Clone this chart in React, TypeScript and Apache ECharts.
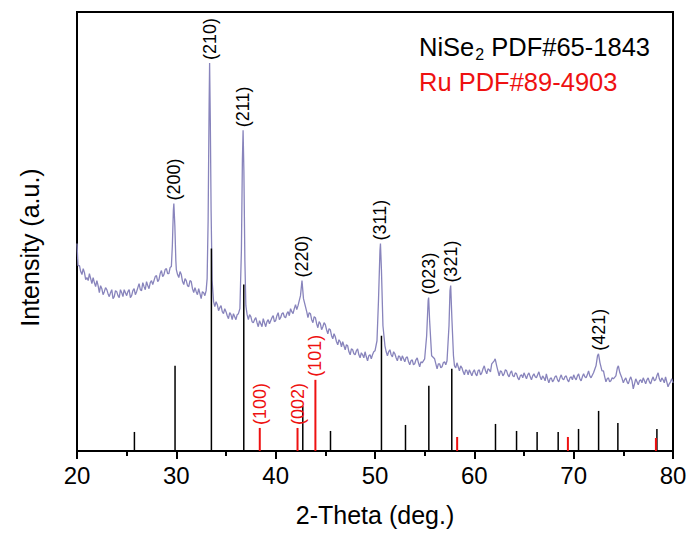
import React, { useEffect, useRef } from "react";
import * as echarts from "echarts";

// XRD pattern of the sample: [2-theta (deg), intensity (a.u.)]
const pattern: [number, number][] = [
  [20.0, 207], [20.1, 185], [20.25, 185], [20.375, 179], [20.5, 176], [20.625, 182], [20.75, 178], [20.875, 171],
  [21.0, 173], [21.125, 170], [21.25, 177], [21.375, 172], [21.5, 167], [21.625, 173], [21.75, 168], [21.875, 164],
  [22.0, 170], [22.125, 165], [22.25, 158], [22.375, 165], [22.5, 162], [22.625, 156], [22.75, 159], [22.875, 163],
  [23.0, 161], [23.125, 157], [23.25, 154], [23.375, 158], [23.5, 161], [23.625, 152], [23.75, 154], [23.875, 160],
  [24.0, 159], [24.125, 155], [24.25, 153], [24.375, 161], [24.5, 158], [24.625, 154], [24.75, 161], [24.875, 158],
  [25.0, 155], [25.125, 159], [25.25, 161], [25.375, 153], [25.5, 155], [25.625, 160], [25.75, 162], [25.875, 156],
  [26.0, 159], [26.125, 163], [26.25, 167], [26.375, 161], [26.5, 160], [26.625, 168], [26.75, 164], [26.875, 161],
  [27.0, 169], [27.125, 165], [27.25, 162], [27.375, 168], [27.5, 170], [27.625, 166], [27.75, 170], [27.875, 174],
  [28.0, 175], [28.125, 169], [28.25, 171], [28.375, 177], [28.5, 180], [28.625, 174], [28.75, 176], [28.875, 181],
  [29.0, 182], [29.125, 177], [29.25, 177], [29.375, 183], [29.5, 184], [29.6, 205], [29.7, 240], [29.75, 247],
  [29.85, 225], [29.95, 190], [30.0, 181], [30.125, 176], [30.25, 173], [30.375, 179], [30.5, 176], [30.625, 169],
  [30.75, 166], [30.875, 172], [31.0, 170], [31.125, 165], [31.25, 164], [31.375, 170], [31.5, 169], [31.625, 162],
  [31.75, 158], [31.875, 163], [32.0, 159], [32.125, 156], [32.25, 162], [32.375, 157], [32.5, 152], [32.625, 159],
  [32.75, 158], [32.875, 155], [33.0, 160], [33.1, 172], [33.2, 230], [33.3, 345], [33.35, 387], [33.42, 330],
  [33.5, 240], [33.6, 170], [33.75, 149], [33.875, 144], [34.0, 149], [34.125, 146], [34.25, 140], [34.375, 143],
  [34.5, 145], [34.625, 139], [34.75, 137], [34.875, 142], [35.0, 139], [35.125, 135], [35.25, 132], [35.375, 138],
  [35.5, 136], [35.625, 131], [35.75, 137], [35.875, 134], [36.0, 131], [36.125, 136], [36.25, 137], [36.4, 142],
  [36.55, 200], [36.65, 290], [36.72, 320], [36.8, 280], [36.9, 190], [37.0, 145], [37.125, 136], [37.25, 131],
  [37.375, 136], [37.5, 134], [37.625, 129], [37.75, 128], [37.875, 131], [38.0, 133], [38.125, 128], [38.25, 124],
  [38.375, 130], [38.5, 127], [38.625, 124], [38.75, 132], [38.875, 128], [39.0, 124], [39.125, 129], [39.25, 131],
  [39.375, 127], [39.5, 130], [39.625, 133], [39.75, 135], [39.875, 129], [40.0, 130], [40.125, 135], [40.25, 138],
  [40.375, 131], [40.5, 133], [40.625, 137], [40.75, 138], [40.875, 134], [41.0, 133], [41.125, 137], [41.25, 139],
  [41.375, 135], [41.5, 142], [41.625, 139], [41.75, 137], [41.875, 142], [42.0, 146], [42.125, 141], [42.25, 145],
  [42.5, 155], [42.65, 170], [42.8, 152], [43.0, 144], [43.125, 139], [43.25, 133], [43.375, 138], [43.5, 137],
  [43.625, 131], [43.75, 128], [43.875, 134], [44.0, 133], [44.125, 127], [44.25, 123], [44.375, 129], [44.5, 127],
  [44.625, 121], [44.75, 124], [44.875, 128], [45.0, 126], [45.125, 121], [45.25, 117], [45.375, 122], [45.5, 121],
  [45.625, 115], [45.75, 112], [45.875, 117], [46.0, 114], [46.125, 109], [46.25, 106], [46.375, 111], [46.5, 109],
  [46.625, 104], [46.75, 109], [46.875, 105], [47.0, 101], [47.125, 106], [47.25, 105], [47.375, 99], [47.5, 96],
  [47.625, 102], [47.75, 101], [47.875, 97], [48.0, 96], [48.125, 100], [48.25, 102], [48.375, 96], [48.5, 93],
  [48.625, 98], [48.75, 96], [48.875, 93], [49.0, 99], [49.125, 94], [49.25, 90], [49.375, 95], [49.5, 96],
  [49.625, 92], [49.75, 96], [49.875, 99], [50.0, 100], [50.2, 110], [50.35, 150], [50.5, 200], [50.55, 207],
  [50.65, 180], [50.8, 125], [51.0, 105], [51.125, 99], [51.25, 95], [51.375, 99], [51.5, 101], [51.625, 96],
  [51.75, 94], [51.875, 99], [52.0, 97], [52.125, 93], [52.25, 90], [52.375, 95], [52.5, 94], [52.625, 90],
  [52.75, 95], [52.875, 92], [53.0, 89], [53.125, 93], [53.25, 94], [53.375, 89], [53.5, 86], [53.625, 90],
  [53.75, 91], [53.875, 86], [54.0, 87], [54.125, 91], [54.25, 93], [54.375, 88], [54.5, 84], [54.625, 89],
  [54.75, 88], [55.0, 92], [55.2, 115], [55.35, 150], [55.4, 153], [55.5, 130], [55.7, 95], [56.0, 92],
  [56.125, 87], [56.25, 82], [56.375, 87], [56.5, 87], [56.625, 83], [56.75, 84], [56.875, 88], [57.0, 89],
  [57.125, 86], [57.25, 90], [57.45, 125], [57.55, 160], [57.62, 165], [57.75, 130], [57.9, 95], [58.0, 85],
  [58.125, 83], [58.25, 88], [58.375, 84], [58.5, 80], [58.625, 85], [58.75, 83], [58.875, 79], [59.0, 76],
  [59.125, 81], [59.25, 80], [59.375, 76], [59.5, 81], [59.625, 78], [59.75, 75], [59.875, 79], [60.0, 81],
  [60.125, 77], [60.25, 75], [60.375, 80], [60.5, 81], [60.625, 76], [60.75, 78], [60.875, 82], [61.0, 85],
  [61.125, 80], [61.25, 77], [61.375, 82], [61.5, 81], [61.625, 79], [61.75, 87], [62.0, 90], [62.1, 92],
  [62.25, 85], [62.5, 75], [62.625, 80], [62.75, 79], [62.875, 75], [63.0, 77], [63.125, 81], [63.25, 80],
  [63.375, 76], [63.5, 74], [63.625, 78], [63.75, 80], [63.875, 75], [64.0, 74], [64.125, 78], [64.25, 77],
  [64.375, 73], [64.5, 71], [64.625, 75], [64.75, 76], [64.875, 73], [65.0, 78], [65.125, 75], [65.25, 72],
  [65.375, 76], [65.5, 78], [65.625, 74], [65.75, 71], [65.875, 75], [66.0, 77], [66.125, 74], [66.25, 73],
  [66.375, 76], [66.5, 79], [66.625, 74], [66.75, 71], [66.875, 75], [67.0, 73], [67.125, 70], [67.25, 77],
  [67.375, 72], [67.5, 68], [67.625, 72], [67.75, 73], [67.875, 69], [68.0, 71], [68.125, 74], [68.25, 75],
  [68.375, 71], [68.5, 69], [68.625, 73], [68.75, 76], [68.875, 72], [69.0, 71], [69.125, 74], [69.25, 75],
  [69.375, 71], [69.5, 69], [69.625, 73], [69.75, 74], [69.875, 71], [70.0, 76], [70.125, 73], [70.25, 71],
  [70.375, 75], [70.5, 77], [70.625, 72], [70.75, 70], [70.875, 74], [71.0, 77], [71.125, 74], [71.25, 73],
  [71.375, 76], [71.5, 80], [71.625, 75], [71.75, 73], [72.0, 78], [72.25, 85], [72.4, 95], [72.5, 97],
  [72.65, 88], [72.85, 80], [73.0, 80], [73.125, 74], [73.25, 69], [73.375, 72], [73.5, 73], [73.625, 69],
  [73.75, 70], [73.875, 73], [74.0, 72], [74.25, 75], [74.4, 83], [74.5, 85], [74.65, 78], [74.85, 73],
  [75.0, 68], [75.125, 71], [75.25, 73], [75.375, 69], [75.5, 67], [75.625, 71], [75.75, 74], [75.875, 70],
  [76.0, 62], [76.125, 67], [76.25, 72], [76.375, 69], [76.5, 66], [76.625, 70], [76.75, 71], [76.875, 68],
  [77.0, 73], [77.125, 70], [77.25, 67], [77.375, 71], [77.5, 73], [77.625, 69], [77.75, 67], [77.875, 71],
  [78.0, 74], [78.125, 70], [78.25, 71], [78.375, 75], [78.5, 78], [78.625, 72], [78.75, 69], [78.875, 73],
  [79.0, 71], [79.125, 68], [79.25, 74], [79.375, 69], [79.5, 64], [79.625, 67], [79.75, 69], [79.875, 72],
  [80.0, 68],
];

// NiSe2 PDF#65-1843 reference lines: [2-theta, relative height]
const niSe2Lines: [number, number][] = [
  [25.78, 19], [29.87, 85], [33.53, 202], [36.79, 166], [42.73, 45], [45.52, 20], [50.65, 115], [53.07, 26],
  [55.42, 65], [57.73, 82], [62.13, 27], [64.25, 20], [66.32, 19], [68.44, 19], [70.49, 22], [72.51, 40],
  [74.45, 28], [78.38, 22],
];

// Ru PDF#89-4903 reference lines
const ruLines: [number, number][] = [
  [38.4, 23], [42.2, 23], [44.0, 71], [58.27, 14], [69.42, 14], [78.28, 13],
];

// Peak indexing labels
const niSe2Hkl = ["(200)", "(210)", "(211)", "(220)", "(311)", "(023)", "(321)", "(421)"];
const niSe2HklTheta = [29.75, 33.35, 36.72, 42.65, 50.55, 55.4, 57.62, 72.5];
const ruHkl = ["(100)", "(002)", "(101)"];
const ruHklTheta = [38.4, 42.2, 44.0];

const xTicks = { min: 20, max: 80, interval: 10 };

const FONT = '"Liberation Sans", Arial, Helvetica, sans-serif';

export default function App() {
  const ref = useRef<HTMLDivElement>(null);

  useEffect(() => {
    if (!ref.current) return;
    const chart = echarts.init(ref.current, undefined, { renderer: "svg" });

    const peakHeight = (t: number) => {
      let m = 0;
      for (const [x, y] of pattern) if (Math.abs(x - t) <= 0.15 && y > m) m = y;
      return m;
    };
    const niLabelData = niSe2HklTheta.map((t) => [t, peakHeight(t)]);
    const ruLabelData = ruHklTheta.map((t) => {
      const l = ruLines.find((r) => Math.abs(r[0] - t) < 0.05);
      return [t, l ? l[1] : 0];
    });

    const stickSeries = (name: string, data: [number, number][], color: string, width: number, z: number) => ({
      name,
      type: "custom",
      z,
      data,
      encode: { x: 0, y: 1 },
      renderItem: (params: any, api: any) => {
        const p0 = api.coord([api.value(0), 0]);
        const p1 = api.coord([api.value(0), api.value(1)]);
        return {
          type: "line",
          shape: { x1: p0[0], y1: p0[1], x2: p1[0], y2: p1[1] },
          style: { stroke: color, lineWidth: width },
        };
      },
    });

    const labelSeries = (texts: string[], data: number[][], color: string, gap: number) => ({
      type: "custom",
      z: 10,
      data,
      encode: { x: 0, y: 1 },
      renderItem: (params: any, api: any) => {
        const p = api.coord([api.value(0), api.value(1)]);
        return {
          type: "text",
          x: p[0],
          y: p[1] - gap,
          rotation: Math.PI / 2,
          style: {
            text: texts[params.dataIndex],
            fill: color,
            font: `18px ${FONT}`,
            align: "left",
            verticalAlign: "middle",
            textAlign: "left",
            textVerticalAlign: "middle",
          },
        };
      },
    });

    chart.setOption({
      animation: false,
      backgroundColor: "#ffffff",
      grid: {
        left: 77,
        right: 18,
        top: 12,
        bottom: 85,
        show: true,
        borderColor: "#000",
        borderWidth: 2,
        backgroundColor: "transparent",
      },
      xAxis: {
        type: "value",
        min: xTicks.min,
        max: xTicks.max,
        interval: xTicks.interval,
        name: "2-Theta (deg.)",
        nameLocation: "middle",
        nameGap: 51,
        nameTextStyle: { fontSize: 25, color: "#000", fontFamily: FONT },
        axisLine: { show: true, lineStyle: { color: "#000", width: 2 } },
        axisTick: { show: true, inside: false, length: 8, lineStyle: { color: "#000", width: 2 } },
        minorTick: { show: true, splitNumber: 2, length: 5, lineStyle: { color: "#000", width: 2 } },
        splitLine: { show: false },
        axisLabel: { fontSize: 24, color: "#000", fontFamily: FONT, margin: 12 },
      },
      yAxis: {
        type: "value",
        min: 0,
        max: 438,
        name: "Intensity (a.u.)",
        nameLocation: "middle",
        nameGap: 35,
        nameTextStyle: { fontSize: 25, color: "#000", fontFamily: FONT, padding: [0, 32, 0, 0] },
        axisLine: { show: true, lineStyle: { color: "#000", width: 2 } },
        axisTick: { show: false },
        axisLabel: { show: false },
        splitLine: { show: false },
      },
      graphic: [
        {
          type: "text",
          x: 419,
          y: 47,
          style: {
            rich: {
              a: { fontSize: 25.5, fontFamily: FONT, fill: "#000", color: "#000" },
              s: { fontSize: 16, fontFamily: FONT, fill: "#000", color: "#000", padding: [15, 0, 0, 1] },
            },
            text: "{a|NiSe}{s|2}{a| PDF#65-1843}",
            verticalAlign: "middle",
            textVerticalAlign: "middle",
          },
        },
        {
          type: "text",
          x: 419,
          y: 82,
          style: {
            text: "Ru PDF#89-4903",
            font: `25.5px ${FONT}`,
            fill: "#ee1111",
            verticalAlign: "middle",
            textVerticalAlign: "middle",
          },
        },
      ],
      series: [
        {
          name: "Sample",
          type: "line",
          data: pattern,
          showSymbol: false,
          symbol: "none",
          lineStyle: { color: "#8884bc", width: 1.3 },
          z: 2,
        },
        stickSeries("NiSe2", niSe2Lines, "#000", 1.5, 5),
        stickSeries("Ru", ruLines, "#ee1111", 2, 6),
        labelSeries(niSe2Hkl, niLabelData, "#000", 3),
        labelSeries(ruHkl, ruLabelData, "#ee1111", 3),
      ],
    });

    return () => chart.dispose();
  }, []);

  return (
    <div
      ref={ref}
      style={{ position: "absolute", left: 0, top: 0, width: 691, height: 536, background: "#fff" }}
    />
  );
}
